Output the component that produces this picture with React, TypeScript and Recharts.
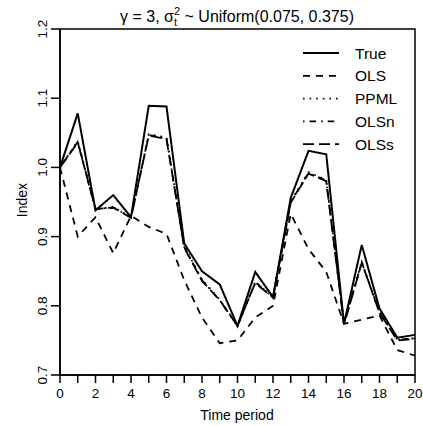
import React from 'react';
import { LineChart, Line, XAxis, YAxis, Legend, ReferenceArea } from 'recharts';

const periods = [0, 1, 2, 3, 4, 5, 6, 7, 8, 9, 10, 11, 12, 13, 14, 15, 16, 17, 18, 19, 20];
const trueIdx = [1.0, 1.078, 0.938, 0.96, 0.928, 1.089, 1.088, 0.89, 0.85, 0.831, 0.771, 0.849, 0.8125, 0.956, 1.024, 1.019, 0.774, 0.888, 0.796, 0.754, 0.758];
const olsIdx = [1.0, 0.9, 0.928, 0.876, 0.93, 0.914, 0.904, 0.837, 0.783, 0.746, 0.75, 0.783, 0.8, 0.933, 0.882, 0.849, 0.774, 0.78, 0.786, 0.736, 0.728];
const ppmlIdx = [1.0, 1.038, 0.939, 0.943, 0.928, 1.048, 1.043, 0.886, 0.838, 0.809, 0.771, 0.835, 0.812, 0.951, 0.993, 0.982, 0.774, 0.864, 0.791, 0.751, 0.753];
const olsnIdx = [1.0, 1.037, 0.94, 0.942, 0.928, 1.047, 1.042, 0.885, 0.837, 0.808, 0.771, 0.834, 0.8125, 0.95, 0.992, 0.981, 0.774, 0.863, 0.79, 0.751, 0.753];
const olssIdx = [1.0, 1.036, 0.94, 0.942, 0.927, 1.046, 1.041, 0.884, 0.836, 0.808, 0.771, 0.833, 0.812, 0.949, 0.991, 0.98, 0.773, 0.862, 0.79, 0.75, 0.752];
const yTicks = [0.7, 0.8, 0.9, 1.0, 1.1, 1.2];

const data = periods.map((t, i) => ({
  t,
  True: trueIdx[i],
  OLS: olsIdx[i],
  PPML: ppmlIdx[i],
  OLSn: olsnIdx[i],
  OLSs: olssIdx[i],
}));

// R lty patterns, scaled for the line width
const dashes: Record<string, string | undefined> = {
  True: undefined,
  OLS: '7 6',
  PPML: '1.6 5',
  OLSn: '1.6 5 6.5 5',
  OLSs: '11 5',
};
const seriesNames = ['True', 'OLS', 'PPML', 'OLSn', 'OLSs'];

const FONT = '"Liberation Sans", Arial, sans-serif';

const XTick = (props: any) => {
  const { x, y, payload } = props;
  if (payload.value % 2 !== 0) return <g />;
  return (
    <text x={x} y={y + 13} textAnchor="middle" fontSize={13.5} fill="#000" fontFamily={FONT}>
      {payload.value}
    </text>
  );
};

const YTick = (props: any) => {
  const { x, y, payload } = props;
  return (
    <text transform={`translate(${x - 2},${y}) rotate(-90)`} textAnchor="middle" fontSize={13.5} fill="#000" fontFamily={FONT}>
      {payload.value.toFixed(1)}
    </text>
  );
};

const renderLegend = () => (
  <svg width={120} height={125}>
    {seriesNames.map((n, i) => (
      <g key={n}>
        <line x1={3} x2={39} y1={12 + i * 22.8} y2={12 + i * 22.8} stroke="#000" strokeWidth={1.8} strokeDasharray={dashes[n]} />
        <text x={55} y={12 + i * 22.8} dy="0.36em" fontSize={15.5} fontFamily={FONT} fill="#000">{n}</text>
      </g>
    ))}
  </svg>
);

export default function App() {
  return (
    <div style={{ position: 'absolute', left: 0, top: 0, width: 423, height: 426, background: '#fff' }}>
      <LineChart width={423} height={426} data={data} margin={{ top: 29, right: 8, bottom: 0, left: 0 }} style={{ fontFamily: FONT }}>
        <XAxis
          dataKey="t"
          type="number"
          domain={[0, 20]}
          ticks={periods}
          interval={0}
          height={51}
          tickSize={8}
          tick={<XTick />}
          stroke="#000"
          strokeWidth={1.5}
        />
        <YAxis
          type="number"
          domain={[0.7, 1.2]}
          ticks={yTicks}
          interval={0}
          width={60}
          tickSize={9}
          tick={<YTick />}
          stroke="#000"
          strokeWidth={1.5}
        />
        <ReferenceArea x1={0} x2={20} y1={0.7} y2={1.2} fill="none" fillOpacity={0} stroke="#000" strokeWidth={1.5} ifOverflow="visible" />
        <Legend
          content={renderLegend}
          layout="horizontal"
          verticalAlign="middle"
          wrapperStyle={{ position: 'absolute', left: 300, top: 41, width: 120, height: 125 }}
        />
        {seriesNames.map((n) => (
          <Line
            key={n}
            dataKey={n}
            type="linear"
            stroke="#000"
            strokeWidth={n === 'True' ? 2 : 1.8}
            strokeDasharray={dashes[n]}
            dot={false}
            activeDot={false}
            isAnimationActive={false}
          />
        ))}
      </LineChart>
      <svg width={423} height={426} style={{ position: 'absolute', left: 0, top: 0, pointerEvents: 'none' }}>
        <text x={237} y={22} textAnchor="middle" fontSize={16} fontFamily={FONT} fill="#000">
          γ = 3, σ
          <tspan fontSize={11} dy={-7}>2</tspan>
          <tspan fontSize={11} dx={-6} dy={11}>t</tspan>
          <tspan dx={3} dy={-4}> ~ Uniform(0.075, 0.375)</tspan>
        </text>
        <text transform="translate(27,200) rotate(-90)" textAnchor="middle" fontSize={14} fontFamily={FONT} fill="#000">
          Index
        </text>
        <text x={237} y={420} textAnchor="middle" fontSize={14} fontFamily={FONT} fill="#000">
          Time period
        </text>
      </svg>
    </div>
  );
}
